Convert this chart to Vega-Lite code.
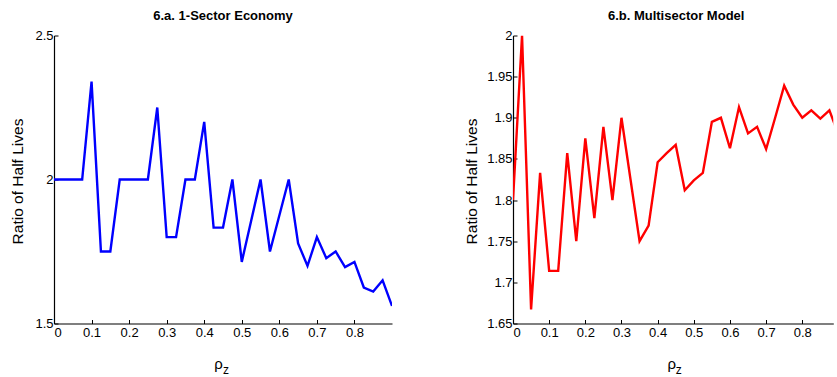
{
  "$schema": "https://vega.github.io/schema/vega-lite/v6.json",
  "background": "white",
  "padding": {"left": 10, "top": 9.5, "right": 0, "bottom": 0},
  "spacing": 72,
  "datasets": {
    "oneSector": [
      {"rho": 0, "ratio": 2}, {"rho": 0.025, "ratio": 2}, {"rho": 0.05, "ratio": 2}, {"rho": 0.075, "ratio": 2},
      {"rho": 0.1, "ratio": 2.34}, {"rho": 0.125, "ratio": 1.75}, {"rho": 0.15, "ratio": 1.75}, {"rho": 0.175, "ratio": 2},
      {"rho": 0.2, "ratio": 2}, {"rho": 0.225, "ratio": 2}, {"rho": 0.25, "ratio": 2}, {"rho": 0.275, "ratio": 2.25},
      {"rho": 0.3, "ratio": 1.8}, {"rho": 0.325, "ratio": 1.8}, {"rho": 0.35, "ratio": 2}, {"rho": 0.375, "ratio": 2},
      {"rho": 0.4, "ratio": 2.2}, {"rho": 0.425, "ratio": 1.833}, {"rho": 0.45, "ratio": 1.833}, {"rho": 0.475, "ratio": 2},
      {"rho": 0.5, "ratio": 1.714}, {"rho": 0.525, "ratio": 1.857}, {"rho": 0.55, "ratio": 2}, {"rho": 0.575, "ratio": 1.75},
      {"rho": 0.6, "ratio": 1.875}, {"rho": 0.625, "ratio": 2}, {"rho": 0.65, "ratio": 1.778}, {"rho": 0.675, "ratio": 1.7},
      {"rho": 0.7, "ratio": 1.8}, {"rho": 0.725, "ratio": 1.727}, {"rho": 0.75, "ratio": 1.75}, {"rho": 0.775, "ratio": 1.696},
      {"rho": 0.8, "ratio": 1.714}, {"rho": 0.825, "ratio": 1.625}, {"rho": 0.85, "ratio": 1.611}, {"rho": 0.875, "ratio": 1.65},
      {"rho": 0.9, "ratio": 1.561}
    ],
    "multiSector": [
      {"rho": 0, "ratio": 1.8}, {"rho": 0.025, "ratio": 2.0}, {"rho": 0.05, "ratio": 1.667}, {"rho": 0.075, "ratio": 1.833},
      {"rho": 0.1, "ratio": 1.714}, {"rho": 0.125, "ratio": 1.714}, {"rho": 0.15, "ratio": 1.857}, {"rho": 0.175, "ratio": 1.75},
      {"rho": 0.2, "ratio": 1.875}, {"rho": 0.225, "ratio": 1.778}, {"rho": 0.25, "ratio": 1.889}, {"rho": 0.275, "ratio": 1.8},
      {"rho": 0.3, "ratio": 1.9}, {"rho": 0.325, "ratio": 1.825}, {"rho": 0.35, "ratio": 1.75}, {"rho": 0.375, "ratio": 1.769},
      {"rho": 0.4, "ratio": 1.846}, {"rho": 0.425, "ratio": 1.857}, {"rho": 0.45, "ratio": 1.867}, {"rho": 0.475, "ratio": 1.812},
      {"rho": 0.5, "ratio": 1.824}, {"rho": 0.525, "ratio": 1.833}, {"rho": 0.55, "ratio": 1.895}, {"rho": 0.575, "ratio": 1.9},
      {"rho": 0.6, "ratio": 1.863}, {"rho": 0.625, "ratio": 1.913}, {"rho": 0.65, "ratio": 1.881}, {"rho": 0.675, "ratio": 1.889},
      {"rho": 0.7, "ratio": 1.862}, {"rho": 0.725, "ratio": 1.9}, {"rho": 0.75, "ratio": 1.939}, {"rho": 0.775, "ratio": 1.916},
      {"rho": 0.8, "ratio": 1.9}, {"rho": 0.825, "ratio": 1.909}, {"rho": 0.85, "ratio": 1.899}, {"rho": 0.875, "ratio": 1.909},
      {"rho": 0.9, "ratio": 1.88}
    ]
  },
  "hconcat": [
    {
      "width": 338,
      "height": 288,
      "title": {"text": "6.a. 1-Sector Economy"},
      "data": {"name": "oneSector"},
      "layer": [
        {
          "mark": {"type": "line", "color": "#0000ff", "strokeWidth": 2.4, "clip": true},
          "encoding": {
            "x": {"field": "rho", "type": "quantitative", "scale": {"domain": [0, 0.9], "nice": false, "zero": false},
              "axis": {"values": [0, 0.1, 0.2, 0.3, 0.4, 0.5, 0.6, 0.7, 0.8], "format": "~g", "title": "ρ", "titleX": 164, "titleY": 44.5, "titleBaseline": "alphabetic", "titleAlign": "center", "titleFontSize": 15}},
            "y": {"field": "ratio", "type": "quantitative", "scale": {"domain": [1.5, 2.5], "nice": false, "zero": false},
              "axis": {"values": [1.5, 2, 2.5], "format": "~g", "title": "Ratio of Half Lives", "titleX": -31.7, "titleY": 145.5, "titleBaseline": "alphabetic", "titleAlign": "center", "titleAngle": -90}}
          }
        },
        {
          "mark": {"type": "line", "opacity": 0},
          "encoding": {
            "x": {"field": "rho", "type": "quantitative",
              "axis": {"orient": "top", "domain": false, "ticks": false, "labels": false, "title": "z", "titleX": 171.5, "titleY": 337.5, "titleBaseline": "alphabetic", "titleAlign": "center", "titleFontSize": 12}},
            "y": {"field": "ratio", "type": "quantitative"}
          }
        }
      ],
      "resolve": {"axis": {"x": "independent"}}
    },
    {
      "width": 320.3,
      "height": 288,
      "title": {"text": "6.b. Multisector Model", "dx": 3},
      "data": {"name": "multiSector"},
      "layer": [
        {
          "mark": {"type": "line", "color": "#ff0000", "strokeWidth": 2.4, "clip": true},
          "encoding": {
            "x": {"field": "rho", "type": "quantitative", "scale": {"domain": [0, 0.8858], "nice": false, "zero": false},
              "axis": {"values": [0, 0.1, 0.2, 0.3, 0.4, 0.5, 0.6, 0.7, 0.8], "format": "~g", "title": "ρ", "titleX": 158.3, "titleY": 44.5, "titleBaseline": "alphabetic", "titleAlign": "center", "titleFontSize": 15}},
            "y": {"field": "ratio", "type": "quantitative", "scale": {"domain": [1.65, 2], "nice": false, "zero": false},
              "axis": {"values": [1.65, 1.7, 1.75, 1.8, 1.85, 1.9, 1.95, 2], "format": "~g", "title": "Ratio of Half Lives", "titleX": -36.7, "titleY": 145.5, "titleBaseline": "alphabetic", "titleAlign": "center", "titleAngle": -90}}
          }
        },
        {
          "mark": {"type": "line", "opacity": 0},
          "encoding": {
            "x": {"field": "rho", "type": "quantitative",
              "axis": {"orient": "top", "domain": false, "ticks": false, "labels": false, "title": "z", "titleX": 165.3, "titleY": 337.5, "titleBaseline": "alphabetic", "titleAlign": "center", "titleFontSize": 12}},
            "y": {"field": "ratio", "type": "quantitative"}
          }
        }
      ],
      "resolve": {"axis": {"x": "independent"}}
    }
  ],
  "config": {
    "view": {"stroke": null},
    "axis": {
      "grid": false,
      "domainColor": "#000000",
      "domainWidth": 1.2,
      "tickColor": "#000000",
      "tickSize": -4,
      "labelColor": "#000000",
      "labelFont": "Liberation Sans",
      "labelFontSize": 13,
      "labelPadding": 5,
      "titleColor": "#000000",
      "titleFont": "Liberation Sans",
      "titleFontWeight": "normal",
      "titleFontSize": 15.5
    },
    "axisX": {"labelPadding": 7},
    "title": {"font": "Liberation Sans", "fontSize": 13, "fontWeight": "bold", "color": "#000000", "baseline": "alphabetic", "offset": 6.5}
  }
}
